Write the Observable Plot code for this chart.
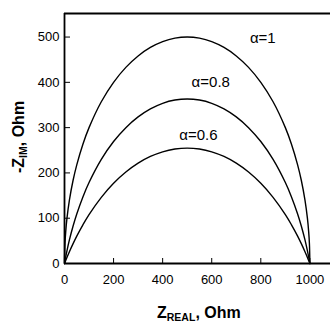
<!DOCTYPE html>
<html><head><meta charset="utf-8">
<script src="https://cdn.jsdelivr.net/npm/d3@7"></script>
<script src="https://cdn.jsdelivr.net/npm/@observablehq/plot@0.6"></script>
<style>body{margin:0;background:#fff} svg{display:block}</style>
</head><body><div id="chart"></div>
<script>
const zReal = [0,2,5,10,20,35,50,75,100,150,200,250,300,350,400,450,500,550,600,650,700,750,800,850,900,925,950,965,980,990,995,998,1000];
const alpha1 = [0,44.7,70.5,99.5,140,183.8,217.9,263.4,300,357.1,400,433,458.3,477,489.9,497.5,500,497.5,489.9,477,458.3,433,400,357.1,300,263.4,217.9,183.8,140,99.5,70.5,44.7,0];
const alpha08 = [0,6.0,14.7,28.0,52.0,82.8,109.4,147.0,178.7,229.8,269.3,300.0,323.7,341.4,353.7,360.9,363.3,360.9,353.7,341.4,323.7,300.0,269.3,229.8,178.7,147.0,109.4,82.8,52.0,28.0,14.7,6.0,0];
const alpha06 = [0,2.7,6.8,13.4,26.0,43.8,60.4,85.4,107.9,146.1,177.1,201.9,221.5,236.3,246.6,252.7,254.8,252.7,246.6,236.3,221.5,201.9,177.1,146.1,107.9,85.4,60.4,43.8,26.0,13.4,6.8,2.7,0];
const seriesNames = ["α=1","α=0.8","α=0.6"];
const labelX = [808, 596, 546];
const labelY = [497, 400, 283];
const xTicks = [0,200,400,600,800,1000];
const yTicks = [0,100,200,300,400,500];

const data = [];
[alpha1, alpha08, alpha06].forEach((ys, k) => ys.forEach((y, i) => data.push({series: seriesNames[k], x: zReal[i], y})));
const labels = seriesNames.map((t, i) => ({t, x: labelX[i], y: labelY[i]}));

const plot = Plot.plot({
  width: 330, height: 323, marginLeft: 64, marginTop: 13, marginBottom: 60, marginRight: 0,
  x: {domain: [0, 1084]}, y: {domain: [0, 552]},
  style: {fontFamily: "'Liberation Sans', Arial, sans-serif", background: "#fff", color: "#000"},
  marks: [
    Plot.axisX(xTicks, {tickSize: -5, tickPadding: 16, fontSize: 13, label: null, stroke: "#000", tickFormat: d3.format("d")}),
    Plot.axisY(yTicks, {tickSize: -6, tickPadding: 11, fontSize: 13, label: null, stroke: "#000", tickFormat: d3.format("d")}),
    Plot.line(data, {x: "x", y: "y", z: "series", curve: "catmull-rom", stroke: "#000", strokeWidth: 1.4}),
    Plot.ruleX([0], {stroke: "#000", strokeWidth: 1.8}),
    Plot.ruleY([0], {stroke: "#000", strokeWidth: 1.8}),
    Plot.ruleY([552], {stroke: "#000", strokeWidth: 1.8}),
    Plot.text(labels, {x: "x", y: "y", text: "t", fontSize: 15, fill: "#000"})
  ]
});
document.getElementById("chart").appendChild(plot);

const svg = d3.select(plot);
const xt = svg.append("text").attr("x", 157).attr("y", 318).attr("text-anchor", "start")
  .attr("font-family", "'Liberation Sans', Arial, sans-serif").attr("font-weight", "bold").attr("font-size", 16).attr("fill", "#000");
xt.append("tspan").text("Z");
xt.append("tspan").attr("font-size", 10.5).attr("dy", 2.5).text("REAL");
xt.append("tspan").attr("dy", -2.5).text(", Ohm");

const yt = svg.append("text").attr("transform", "translate(24,173) rotate(-90)").attr("text-anchor", "start")
  .attr("font-family", "'Liberation Sans', Arial, sans-serif").attr("font-weight", "bold").attr("font-size", 16).attr("fill", "#000");
yt.append("tspan").text("-Z");
yt.append("tspan").attr("font-size", 10.5).attr("dy", 2.5).text("IM");
yt.append("tspan").attr("dy", -2.5).text(", Ohm");
</script>
</body></html>
